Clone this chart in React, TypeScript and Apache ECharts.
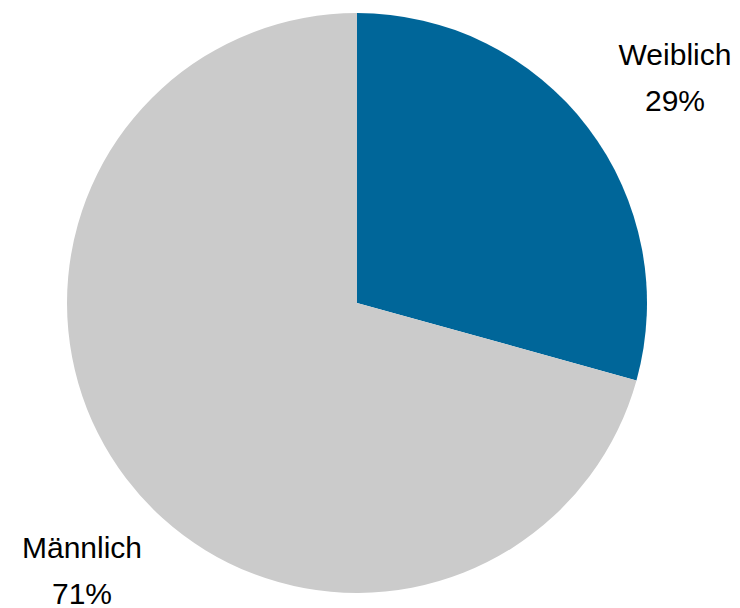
import React, { useEffect, useRef } from "react";
import * as echarts from "echarts";

const categories = ["Weiblich", "Männlich"];
const values = [29.3, 70.7];
const colors = ["#006699", "#cbcbcb"];

export default function App() {
  const ref = useRef<HTMLDivElement>(null);
  useEffect(() => {
    if (!ref.current) return;
    const chart = echarts.init(ref.current, null, { renderer: "svg" });
    chart.setOption({
      animation: false,
      backgroundColor: "#ffffff",
      series: [
        {
          type: "pie",
          center: [357, 303],
          radius: [0, 290],
          startAngle: 90,
          clockwise: true,
          silent: true,
          percentPrecision: 0,
          itemStyle: { borderWidth: 0 },
          label: {
            show: true,
            position: "outside",
            formatter: "{b}\n{d}%",
            fontFamily: "Liberation Sans, Arial, sans-serif",
            fontSize: 30,
            lineHeight: 46,
            color: "#000000",
            align: "center",
            overflow: "none",
            edgeDistance: 0,
          },
          labelLine: { show: false },
          labelLayout: (params: any) =>
            params.dataIndex === 0
              ? { x: 675, y: 77, align: "center", verticalAlign: "middle" }
              : { x: 82, y: 570, align: "center", verticalAlign: "middle" },
          data: categories.map((name, i) => ({
            name,
            value: values[i],
            itemStyle: { color: colors[i] },
          })),
        },
      ],
    });
    return () => chart.dispose();
  }, []);
  return (
    <div
      ref={ref}
      style={{ position: "fixed", left: 0, top: 0, width: 740, height: 608 }}
    />
  );
}
